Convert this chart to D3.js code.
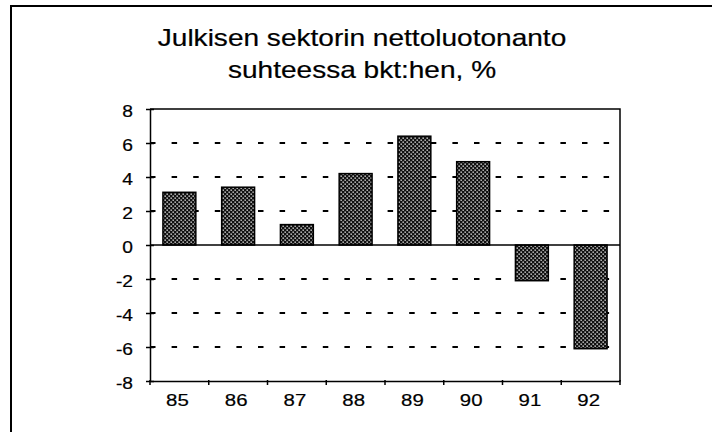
<!DOCTYPE html>
<html>
  <head>
    <meta charset="utf-8" />
    <script src="https://d3js.org/d3.v7.min.js"></script>
    <style>
      body { margin: 0; background: #fff; }
      text { font-family: "Liberation Sans", Arial, Helvetica, sans-serif; fill: #000; stroke: #000; stroke-width: 0.2px; }
    </style>
  </head>
  <body>
    <div id="chart"></div>
    <script>
      // data
      const years = ["85", "86", "87", "88", "89", "90", "91", "92"];
      const values = [3.1, 3.4, 1.2, 4.2, 6.4, 4.9, -2.1, -6.1];
      const yTicks = [-8, -6, -4, -2, 0, 2, 4, 6, 8];
      const titleLines = ["Julkisen sektorin nettoluotonanto", "suhteessa bkt:hen, %"];

      const W = 712, H = 432;
      const margin = { top: 109, right: 92, bottom: 51, left: 150 };
      const width = W - margin.left - margin.right;
      const height = H - margin.top - margin.bottom;
      const sx = 1.2; // the scan stretches type horizontally

      const svg = d3.select("#chart").append("svg").attr("width", W).attr("height", H);

      // dotted fill used for the bars
      const pat = svg.append("defs").append("pattern")
        .attr("id", "dots").attr("patternUnits", "userSpaceOnUse")
        .attr("width", 4).attr("height", 4);
      pat.append("rect").attr("width", 4).attr("height", 4).attr("fill", "#111");
      pat.append("rect").attr("x", 0.5).attr("y", 0.5).attr("width", 1.3).attr("height", 1.3).attr("fill", "#fff");
      pat.append("rect").attr("x", 2.5).attr("y", 2.5).attr("width", 1.3).attr("height", 1.3).attr("fill", "#fff");

      // outer frame, runs off the page right and bottom
      svg.append("rect").attr("x", 11).attr("y", 6).attr("width", 760).attr("height", 480)
        .attr("fill", "none").attr("stroke", "#000").attr("stroke-width", 2);

      titleLines.forEach((t, i) => {
        svg.append("text")
          .attr("transform", `translate(362,${46 + i * 32}) scale(1.22,1)`)
          .attr("text-anchor", "middle")
          .style("font-size", "23px")
          .text(t);
      });

      const g = svg.append("g").attr("transform", `translate(${margin.left},${margin.top})`);

      const x = d3.scaleBand().domain(years).range([0, width]).paddingInner(0.44).paddingOuter(0.22);
      const y = d3.scaleLinear().domain([-8, 8]).range([height, 0]);

      // dashed gridlines
      g.selectAll(".grid")
        .data(yTicks.filter((d) => d !== 0 && Math.abs(d) !== 8))
        .enter().append("line")
        .attr("x1", 0).attr("x2", width)
        .attr("y1", (d) => y(d)).attr("y2", (d) => y(d))
        .attr("stroke", "#000").attr("stroke-width", 2)
        .attr("stroke-dasharray", "5.5 16.1");

      // bars
      g.selectAll(".bar")
        .data(values)
        .enter().append("rect")
        .attr("x", (d, i) => x(years[i]))
        .attr("width", x.bandwidth())
        .attr("y", (d) => y(Math.max(0, d)))
        .attr("height", (d) => Math.abs(y(d) - y(0)))
        .attr("fill", "url(#dots)")
        .attr("stroke", "#000").attr("stroke-width", 1.5);

      // zero line
      g.append("line").attr("x1", 0).attr("x2", width).attr("y1", y(0)).attr("y2", y(0))
        .attr("stroke", "#000").attr("stroke-width", 1.5);

      // top and right border
      g.append("path")
        .attr("d", `M0,${y(8)}H${width}V${y(-8)}`)
        .attr("fill", "none").attr("stroke", "#000").attr("stroke-width", 1.5);

      // y axis
      const yAxis = g.append("g")
        .call(d3.axisLeft(y).tickValues(yTicks).tickFormat((d) => String(d)).tickSize(4).tickSizeOuter(0));
      yAxis.select(".domain").attr("stroke-width", 1.5);
      yAxis.selectAll(".tick line").attr("x1", 4).attr("x2", -4).attr("stroke-width", 1.5);
      yAxis.selectAll(".tick text")
        .attr("x", -17 / sx).attr("dy", "0.45em")
        .attr("transform", `scale(${sx},1)`)
        .style("font-size", "16px").style("font-family", null);

      // x axis: labels at band centres, ticks at band edges
      const xAxis = g.append("g").attr("transform", `translate(0,${height})`)
        .call(d3.axisBottom(x).tickSize(0).tickSizeOuter(0));
      xAxis.select(".domain").attr("stroke-width", 1.5);
      xAxis.selectAll(".tick text")
        .attr("y", 25).attr("dy", 0).attr("x", -2 / sx)
        .attr("transform", `scale(${sx},1)`)
        .style("font-size", "17px").style("font-family", null);
      xAxis.selectAll(".edge")
        .data(d3.range(years.length + 1))
        .enter().append("line")
        .attr("x1", (i) => i * x.step()).attr("x2", (i) => i * x.step())
        .attr("y1", -1).attr("y2", 4)
        .attr("stroke", "#000").attr("stroke-width", 1.5);
    </script>
  </body>
</html>
